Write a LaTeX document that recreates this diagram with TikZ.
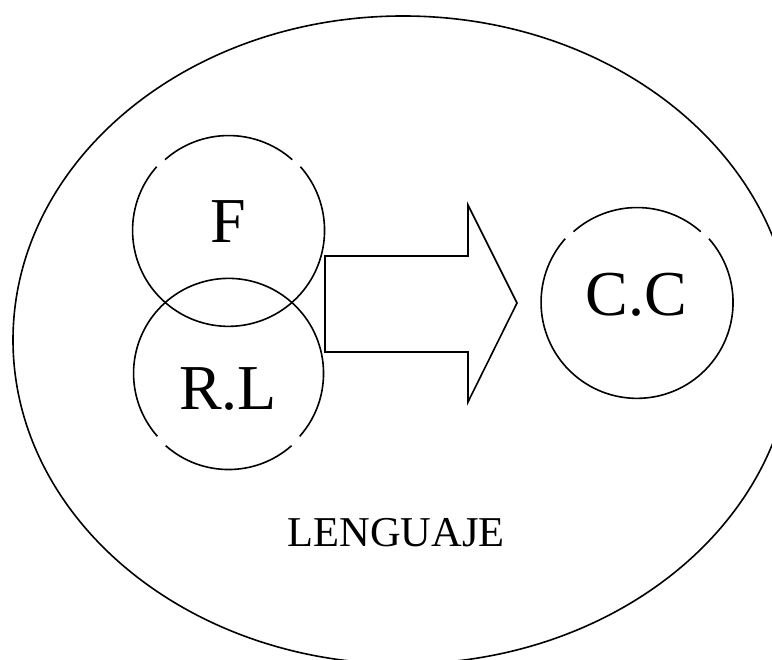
\documentclass[tikz,border=0pt]{standalone}
\usepackage{fontspec}
\setmainfont{Liberation Serif}
\begin{document}
\begin{tikzpicture}[x=1pt,y=1pt,
  line width=1.6pt,
  ring/.style={circle, minimum size=#1, inner sep=0pt, outer sep=0pt, draw=none},
  biglabel/.style={anchor=base, inner sep=0pt, font=\fontsize{64}{70}\selectfont},
  outline/.style={draw=black, line width=1.6pt, line join=miter}]
  \useasboundingbox (0,0) rectangle (772,660);
  \clip (0,0) rectangle (772,660);

  % outer region: LENGUAJE
  \coordinate (L) at (403,320);
  \draw[outline] (L) ellipse [x radius=390, y radius=324];
  \node[anchor=base, inner sep=0pt, font=\fontsize{42.5}{48}\selectfont] (lt) at (396,113) {LENGUAJE};

  % circle F (gaps at the upper left and upper right)
  \node[ring=192pt] (F) at (228,429) {};
  \draw[outline] (F.138.5) arc[start angle=138.5, end angle=401.5, radius=96];
  \draw[outline] (F.48.5) arc[start angle=48.5, end angle=131.5, radius=96];
  \node[biglabel] (ft) at (228,417) {F};

  % circle R.L (gaps at the lower left and lower right)
  \node[ring=190pt] (RL) at (228,286) {};
  \draw[outline] (RL.-41.5) arc[start angle=-41.5, end angle=221.5, radius=95];
  \draw[outline] (RL.-131.5) arc[start angle=-131.5, end angle=-48.5, radius=95];
  \node[biglabel] (rlt) at (228,250) {R.L};

  % circle C.C (gaps at the upper left and upper right)
  \node[ring=192pt] (CC) at (636.5,357) {};
  \draw[outline] (CC.138.5) arc[start angle=138.5, end angle=401.5, radius=96];
  \draw[outline] (CC.48.5) arc[start angle=48.5, end angle=131.5, radius=96];
  \node[biglabel] (cct) at (636.5,344) {C.C};

  % block arrow from F / R.L towards C.C
  \coordinate (a1) at (325,404);
  \coordinate (a2) at (468,404);
  \coordinate (a3) at (468,455);
  \coordinate (tip) at (517,357);
  \coordinate (a5) at (468,258);
  \coordinate (a6) at (468,308);
  \coordinate (a7) at (325,308);
  \draw[outline] (a1) -- (a2) -- (a3) -- (tip) -- (a5) -- (a6) -- (a7) -- cycle;
\end{tikzpicture}
\end{document}
